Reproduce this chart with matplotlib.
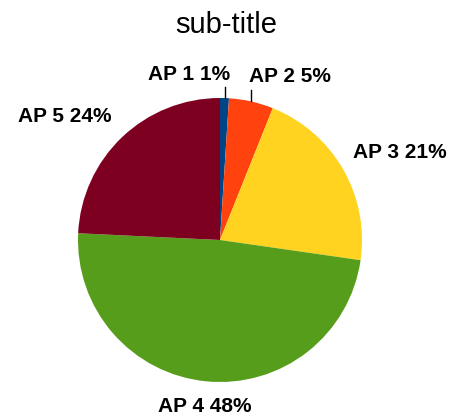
import numpy as np
import matplotlib.pyplot as plt

plt.rcParams['font.family'] = ['Liberation Sans', 'DejaVu Sans']

# data
categories = ['AP 1', 'AP 2', 'AP 3', 'AP 4', 'AP 5']
values = [1, 5, 21, 48, 24]
colors = ['#004586', '#ff420e', '#ffd320', '#579d1c', '#7e0021']
title = 'sub-title'

W, H = 453, 416
fig = plt.figure(figsize=(W / 100, H / 100), dpi=100)
ax = fig.add_axes([0, 0, 1, 1])

# pie in pixel coords (y up)
cx, cy, r = 220, H - 240, 142
wedges, _ = ax.pie(values, colors=colors, startangle=90, counterclock=False,
                   center=(cx, cy), radius=r, wedgeprops=dict(linewidth=0))
ax.set_xlim(0, W)
ax.set_ylim(0, H)
ax.set_aspect('auto')
ax.axis('off')

total = sum(values)
pcts = [round(v / total * 100) for v in values]

# label anchors (pixel coords, top-left origin) and leader flags
label_pos = [(189, 75), (290, 77), (400, 153), (205, 406), (65, 117)]
leader = [True, True, False, False, False]

for i, w in enumerate(wedges):
    txt = f'{categories[i]} {pcts[i]}%'
    lx, ly = label_pos[i]
    ax.text(lx, H - ly, txt, ha='center', va='center', fontsize=15,
            fontweight='bold', color='black')
    if leader[i]:
        mid = np.deg2rad((w.theta1 + w.theta2) / 2)
        x0 = cx + r * np.cos(mid)
        y0 = cy + r * np.sin(mid)
        ax.plot([x0, x0], [y0, y0 + 11], color='black', linewidth=1)

fig.text(226 / W, 1 - 25 / H, title, ha='center', va='center', fontsize=21)

fig.savefig('out.png', dpi=100)
